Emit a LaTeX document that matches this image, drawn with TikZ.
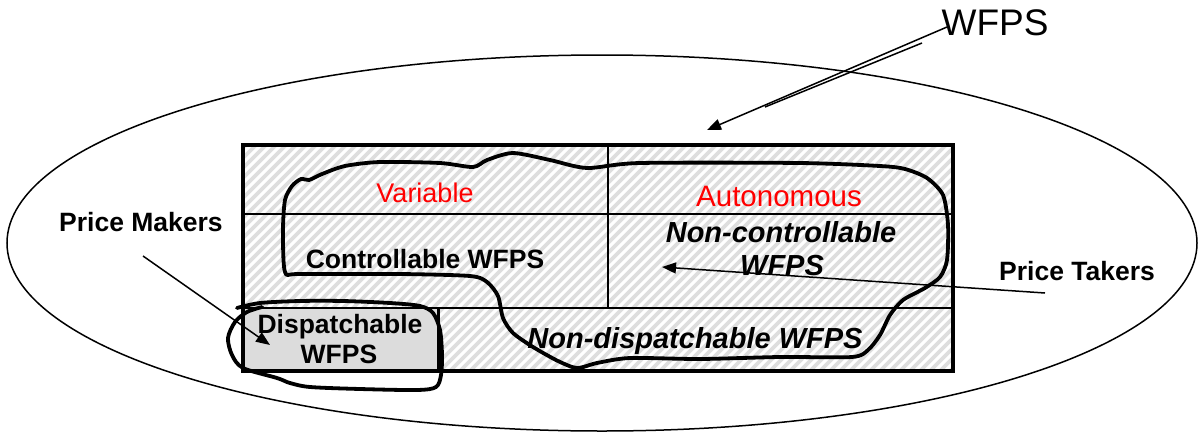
\documentclass[tikz,border=0pt]{standalone}
\usepackage{fontspec}
\setmainfont{Liberation Sans}
\usetikzlibrary{arrows.meta}
\definecolor{hatchgray}{RGB}{222,222,222}
\definecolor{cellgray}{RGB}{220,220,220}

\tikzset{
  txt/.style={anchor=base, inner sep=0pt, font=\fontsize{27}{30}\selectfont},
  boldtxt/.style={anchor=base, inner sep=0pt, font=\bfseries\fontsize{26.5}{30}\selectfont},
  slanttxt/.style={anchor=base, inner sep=0pt, font=\bfseries\itshape\fontsize{29}{32}\selectfont},
  outline/.style={line width=3.8pt, line join=round, line cap=round},
  pointer/.style={line width=1.5pt, -{Triangle[length=14pt,width=11pt]}}
}

\begin{document}
\begin{tikzpicture}[x=1pt, y=-1pt]
  \useasboundingbox (0,0) rectangle (1201,431);

  % all farm systems
  \draw[line width=1.5pt] (602,243) ellipse [x radius=595pt, y radius=188pt];

  % hatched table
  \begin{scope}
    \clip (243,145) rectangle (953,371);
    \foreach \k in {0,10,...,960}
      \draw[hatchgray, line width=3.6pt] (\k,371) -- ++(240,-240);
  \end{scope}
  \fill[cellgray] (243,308) rectangle (438,371);
  \draw[line width=1.5pt] (243,214) -- (953,214);
  \draw[line width=1.5pt] (243,308) -- (953,308);
  \draw[line width=1.5pt] (608,145) -- (608,308);
  \draw[line width=3pt] (438,308) -- (438,371);
  \draw[line width=4pt] (243,145) rectangle (953,371);

  % controllable region
  \draw[outline] plot[smooth cycle, tension=0.45] coordinates {
    (285,272) (283,230) (285,200) (292,186) (301,179) (309,180) (322,174)
    (345,166) (380,162) (440,163) (473,167) (487,160) (513,153) (550,160)
    (587,168) (640,163) (800,163) (880,166) (905,169) (927,178) (943,195)
    (948,225) (947,260) (940,277) (925,288) (903,300) (890,315) (880,335)
    (868,350) (852,357) (780,357) (700,359) (630,358) (597,363) (577,368)
    (558,361) (533,347) (513,333) (503,318) (498,296) (487,282) (470,276)
    (400,274) (300,274)};

  % dispatchable region
  \draw[outline] plot[smooth, tension=0.5] coordinates {
    (237,308) (260,303) (300,301) (343,301) (390,303) (420,306) (433,313)
    (440,330) (442,355) (441,375) (436,387) (417,390) (360,389) (310,387)
    (290,383) (277,378) (243,368) (232,355) (228,338) (235,322) (247,312)
    (262,307)};

  % labels
  \node[txt, font=\fontsize{37}{40}\selectfont] (wfps) at (995,35) {WFPS};
  \node[boldtxt] (makers) at (141,231) {Price Makers};
  \node[boldtxt] (takers) at (1077,280) {Price Takers};
  \node[txt, text=red] (variable) at (425,202) {Variable};
  \node[txt, text=red, font=\fontsize{29.5}{32}\selectfont] (autonomous) at (779,206) {Autonomous};
  \node[boldtxt] (controllable) at (425,268) {Controllable WFPS};
  \node[slanttxt] (noncontrol) at (781,242) {Non-controllable};
  \node[slanttxt] (noncontrolb) at (782,275) {WFPS};
  \node[boldtxt] (dispatch) at (340,333) {Dispatchable};
  \node[boldtxt] (dispatchb) at (339,363) {WFPS};
  \node[slanttxt] (nondispatch) at (695,348) {Non-dispatchable WFPS};

  % pointers
  \coordinate (wfpsTail) at (947,27);
  \coordinate (wfpsTip) at (707,130);
  \coordinate (wfpsTailb) at (922,43);
  \coordinate (wfpsEndb) at (765,107);
  \coordinate (makersTail) at (143,256);
  \coordinate (makersTip) at (270,345);
  \coordinate (takersTail) at (1045,293);
  \coordinate (takersTip) at (662,267);
  \draw[pointer] (wfpsTail) -- (wfpsTip);
  \draw[line width=1.5pt] (wfpsTailb) -- (wfpsEndb);
  \draw[pointer] (makersTail) -- (makersTip);
  \draw[pointer] (takersTail) -- (takersTip);
\end{tikzpicture}
\end{document}
